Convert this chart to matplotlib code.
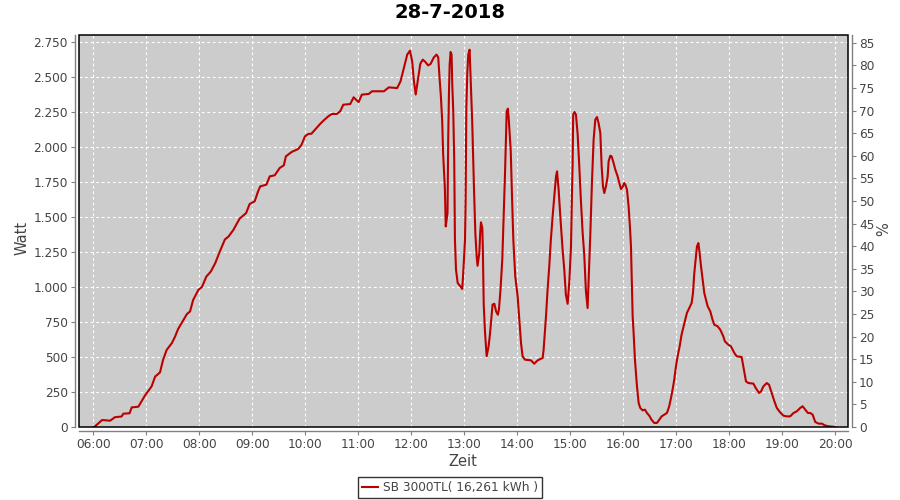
import matplotlib.pyplot as plt
from matplotlib.patches import Rectangle
from matplotlib.ticker import FuncFormatter, FixedLocator

# minutes after 06:00 and inverter output in watt
minutes = [
    0, 1, 10, 19, 24.5, 32, 34, 41, 43.5, 51, 58.5, 66, 70, 75.5, 79, 83, 89,
    92.5, 96, 102, 106, 109.5, 113, 119, 123, 128, 133, 138, 143, 149, 153,
    158.5, 165.6, 173, 177, 182.7, 186.5, 189, 196, 199.7, 205.4, 211, 215.7,
    218, 224.4, 232, 235.8, 239.6, 243.4, 247, 251, 256.7, 260.5, 266, 270,
    275.7, 279.5, 283, 290.9, 294.7, 298.5, 300.4, 304, 311.8, 315.6, 329,
    334.6, 344, 347.8, 351.6, 355.4, 358.5, 361, 363, 365, 367.5, 370.2, 373,
    376, 379, 381.8, 385.5, 388.6, 390.5, 392, 393.5, 395, 396, 398, 399, 401,
    401.8, 402.6, 403.4, 404.5, 405.6, 406.4, 407.5, 408.6, 409.4, 410.6,
    412.5, 415.5, 417.7, 419.2, 420.8, 421.5, 422.3, 423.4, 424.5, 426, 427.2,
    429, 431, 432.5, 434, 435, 437, 438, 438.9, 440.4, 441, 442, 443.4, 445.3,
    447.5, 449, 450.2, 452, 454, 456, 458, 459.2, 461, 463, 464.5, 466, 468,
    469.4, 470.5, 472.6, 474, 475.5, 477.7, 480.4, 482.3, 484.2, 486, 488.7,
    495.5, 499.2, 503, 508.7, 509.8, 512.5, 514.3, 516.2, 518, 520, 521.9,
    523.8, 525, 526.8, 528.7, 531.3, 533.2, 535, 537, 538.9, 540.8, 542,
    542.6, 543.3, 544.8, 546.4, 548.3, 550.2, 552, 554, 555.8, 557.7, 559.6,
    560.8, 562.6, 564.5, 566.4, 568.3, 570.2, 572, 574, 575.5, 577, 578.5,
    580.4, 582.3, 583.4, 585.3, 586.8, 589, 591, 593.6, 595.5, 597.4, 599.2,
    601.1, 602.3, 604.2, 606, 607.5, 608.7, 609.8, 610.6, 611.7, 613.2, 615.5,
    617.4, 619.2, 621.9, 624.5, 626.8, 629.4, 632, 635, 638.1, 640.8, 643.4,
    646.4, 649.4, 652, 654, 655.8, 657.7, 659.6, 661.5, 663.8, 666, 668.3,
    670.2, 672, 674.7, 677.4, 678.9, 680.4, 682.3, 683.4, 685, 686.4, 688,
    689.8, 691.7, 693.6, 695.5, 698.5, 701, 703, 706.8, 709.8, 713.2, 715,
    718.9, 721.9, 725.7, 728.3, 734, 735.9, 738.9, 741.6, 747.3, 749.9, 753.7,
    756, 758.6, 762.4, 765, 768, 771.1, 773.8, 777.5, 781.3, 785.1, 788.9,
    792.7, 796.5, 800.3, 803, 806, 809, 811.7, 814.4, 817.3, 821.1, 824.9,
    828, 832.4, 840,
]
watt = [
    0, 0, 50, 45, 70, 75, 95, 98, 140, 145, 225, 290, 360, 390, 480, 550, 600,
    645, 700, 765, 807, 825, 907, 980, 1000, 1075, 1110, 1170, 1250, 1340, 1360,
    1407, 1488, 1528, 1593, 1612, 1683, 1719, 1731, 1790, 1798, 1850, 1869,
    1933, 1964, 1986, 2017, 2076, 2093, 2095, 2124, 2164, 2188, 2219, 2236,
    2236, 2255, 2302, 2307, 2355, 2331, 2321, 2374, 2379, 2398, 2398,
    2426, 2421, 2469, 2564, 2660, 2688, 2612, 2469, 2375, 2480, 2595, 2624,
    2607, 2583, 2593, 2640, 2660, 2640, 2493, 2362, 2183, 1957, 1707, 1433, 1529,
    2064, 2374, 2588, 2679, 2660, 2445, 2255, 1910, 1338, 1124,
    1029, 1005, 986, 1148, 1338, 1624, 2279, 2529, 2660, 2695, 2493,
    2171, 1700, 1386, 1219, 1152, 1243, 1386, 1462, 1421, 1267, 874, 683, 505,
    576, 660, 743, 874, 881, 826, 802, 838, 981, 1195, 1505, 1790, 2255,
    2274, 2183, 1969, 1650, 1338, 1076, 933, 767, 600, 505, 481,
    476, 452, 476, 493, 552, 790, 981, 1148, 1338, 1505, 1648,
    1790, 1826, 1695, 1505, 1267, 1124, 945, 880, 1040, 1290, 1700,
    1862, 2231, 2250, 2231, 2095, 1860, 1620, 1386, 1230, 970, 850,
    1060, 1362, 1743, 2052, 2195, 2214, 2171, 2100, 1862, 1719, 1671,
    1719, 1790, 1898, 1938, 1933, 1886, 1838, 1790, 1743, 1700, 1714,
    1743, 1731, 1695, 1576, 1433, 1290, 1005, 790, 671, 481, 290,
    171, 136, 119, 124, 100, 81, 52, 29, 29, 52, 76,
    88, 100, 148, 207, 267, 338, 433, 505, 576, 660, 719,
    767, 814, 850, 886, 957, 1100, 1219, 1290, 1314, 1243, 1148,
    1052, 957, 910, 862, 826, 767, 731, 719, 695, 648, 612,
    588, 576, 529, 505, 500, 433, 326, 314, 310, 279, 243,
    255, 290, 314, 302, 243, 183, 136, 105, 81, 76, 76,
    100, 112, 136, 148, 124, 100, 100, 88, 36, 24, 24,
    12, 5, 0,
]

title = "28-7-2018"
series_label = "SB 3000TL( 16,261 kWh )"
hour_ticks = list(range(6, 21))
watt_ticks = list(range(0, 2751, 250))
pct_ticks = list(range(0, 86, 5))

hours = [6 + m / 60 for m in minutes]

grey = "#808080"
text_col = "#444444"
fs = 8.7

fig = plt.figure(figsize=(9, 5), dpi=100)
ax = fig.add_axes([79 / 900, 73 / 500, 769 / 900, 392 / 500])
ax.set_facecolor("#cccccc")
line, = ax.plot(hours, watt, color="#bb0000", lw=1.5, label=series_label, zorder=2)

ax.set_xlim(5.73, 20.24)
ax.set_ylim(0, 2800)
ax.xaxis.set_major_locator(FixedLocator(hour_ticks))
ax.xaxis.set_major_formatter(FuncFormatter(lambda v, p: f"{int(round(v)):02d}:00"))
ax.yaxis.set_major_locator(FixedLocator(watt_ticks))
ax.yaxis.set_major_formatter(FuncFormatter(lambda v, p: f"{int(v):,}".replace(",", ".")))
ax.grid(True, color="white", lw=0.8, linestyle=(0, (2.5, 2.5)))
ax.set_axisbelow(True)

ax2 = ax.twinx()
ax2.set_ylim(0, 86.7)
ax2.yaxis.set_major_locator(FixedLocator(pct_ticks))

for a in (ax, ax2):
    for s in a.spines.values():
        s.set_visible(False)
    a.tick_params(colors=grey, labelcolor=text_col, labelsize=fs, length=3,
                  width=0.8, pad=2)

for name, a in (("left", ax), ("bottom", ax), ("right", ax2)):
    sp = a.spines[name]
    sp.set_visible(True)
    sp.set_color(grey)
    sp.set_linewidth(1)
    sp.set_position(("outward", 3))

ax.add_patch(Rectangle((0, 0), 1, 1, transform=ax.transAxes, fill=False,
                       edgecolor="black", lw=1.1, zorder=5, clip_on=False))

fig.text(0.5, 1 - 13 / 500, title, ha="center", va="center",
         fontsize=14, fontweight="bold", color="#000000")
fig.text(22 / 900, 1 - 238 / 500, "Watt", rotation=90, ha="center", va="center",
         fontsize=10.5, color=text_col)
fig.text(884 / 900, 1 - 229 / 500, "%", rotation=90, ha="center", va="center",
         fontsize=10.5, color=text_col)
fig.text(463 / 900, 1 - 461 / 500, "Zeit", ha="center", va="center",
         fontsize=10.5, color=text_col)

leg = fig.legend(handles=[line], loc="center", bbox_to_anchor=(0.5, 1 - 487.5 / 500),
                 fontsize=fs, frameon=True, fancybox=False, handlelength=1.4,
                 handletextpad=0.4, borderpad=0.3, borderaxespad=0)
leg.get_frame().set_edgecolor("black")
leg.get_frame().set_linewidth(1)
for t in leg.get_texts():
    t.set_color(text_col)

fig.savefig("out.png", dpi=100)
